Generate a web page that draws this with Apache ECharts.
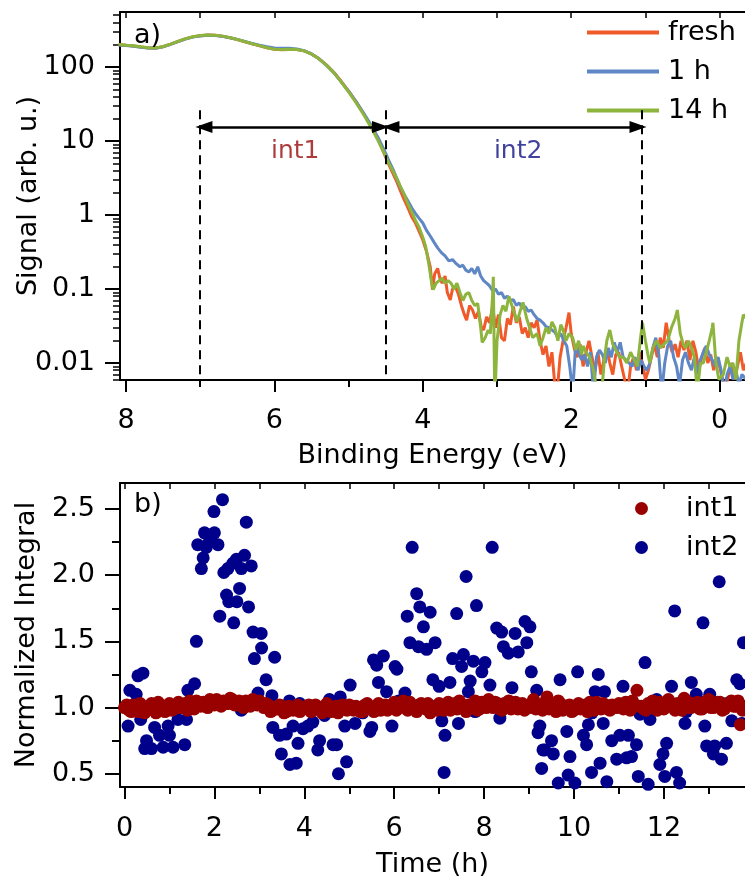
<!DOCTYPE html>
<html>
<head>
<meta charset="utf-8">
<script src="https://cdn.jsdelivr.net/npm/echarts@6/dist/echarts.min.js"></script>
<style>html,body{margin:0;padding:0;background:#fff}#c{width:745px;height:883px}</style>
</head>
<body>
<div id="c"></div>
<script>
// ---------- Panel a: spectra ----------
var smoothE = [8.1,8.0,7.9,7.8,7.7,7.6,7.5,7.4,7.3,7.2,7.1,7.0,6.9,6.8,6.7,6.6,6.5,6.4,6.3,6.2,6.1,6.0,5.9,5.8,5.7,5.6,5.5,5.4,5.3,5.2,5.1,5.0,4.9,4.8,4.7,4.6,4.5];
var freshSmooth = [200,196,192,186,181,180,188,203,221,240,255,265,270,268,260,248,234,219,205,193,181,173,171,172,172,165,150,130,107,85,64,47,34,23.5,16,10.5,6.0];
var h1Smooth    = [198,195,191,185,180,179,187,202,220,238,253,263,268,266,259,248,236,222,208,197,188,181,179,179,175,166,150,129,106,84,63,47,34,24,16.5,11,6.8];
var h14Smooth   = [202,197,193,187,182,181,189,204,222,241,256,266,271,269,261,249,235,220,206,194,182,174,172,173,172,165,149,129,106,84,63,46,33,23,15.5,10,6.2];

var freshTailE = [4.45,4.4,4.35,4.3,4.25,4.2,4.15,4.1,4.05,4.0,3.95,3.9,3.87,3.84,3.8,3.77,3.74,3.7,3.67,3.63,3.6,3.56,3.52,3.48,3.44,3.41,3.37,3.33,3.29,3.25,3.21,3.18,3.14,3.1,3.06,3.02,2.98,2.94,2.9,2.86,2.82,2.78,2.74,2.7,2.66,2.62,2.58,2.54,2.5,2.46,2.42,2.38,2.34,2.3,2.26,2.22,2.19,2.15,2.11,2.07,2.03,2.0,1.96,1.92,1.88,1.84,1.8,1.76,1.72,1.68,1.64,1.6,1.56,1.52,1.48,1.44,1.4,1.36,1.32,1.28,1.24,1.2,1.16,1.12,1.08,1.04,1.0,0.96,0.92,0.88,0.84,0.8,0.76,0.72,0.68,0.64,0.6,0.56,0.52,0.48,0.44,0.4,0.36,0.32,0.28,0.24,0.2,0.16,0.12,0.08,0.04,0.0,-0.04,-0.08,-0.12,-0.16,-0.2,-0.24,-0.28,-0.32,-0.36];
var freshTailS = [4.6,3.6,2.8,2.1,1.6,1.25,0.95,0.78,0.6,0.46,0.32,0.2,0.098,0.16,0.19,0.14,0.12,0.15,0.09,0.071,0.1,0.107,0.085,0.06,0.045,0.038,0.06,0.052,0.04,0.05,0.03,0.028,0.042,0.035,0.058,0.03,0.045,0.022,0.02,0.04,0.033,0.058,0.035,0.042,0.025,0.03,0.022,0.035,0.03,0.038,0.02,0.013,0.017,0.009,0.014,0.005,0.004,0.012,0.02,0.03,0.048,0.025,0.016,0.012,0.018,0.009,0.014,0.02,0.012,0.008,0.014,0.007,0.011,0.016,0.01,0.007,0.013,0.014,0.009,0.006,0.004,0.009,0.012,0.008,0.014,0.01,0.006,0.008,0.012,0.018,0.012,0.022,0.016,0.035,0.02,0.014,0.018,0.012,0.02,0.015,0.02,0.011,0.02,0.014,0.008,0.012,0.016,0.01,0.013,0.008,0.012,0.009,0.006,0.004,0.007,0.01,0.006,0.009,0.014,0.008,0.01];

var h1TailE = [4.45,4.4,4.35,4.3,4.25,4.2,4.15,4.1,4.05,4.0,3.95,3.9,3.85,3.8,3.75,3.7,3.65,3.6,3.55,3.5,3.46,3.42,3.38,3.34,3.3,3.26,3.22,3.18,3.14,3.1,3.06,3.02,2.98,2.94,2.9,2.86,2.82,2.78,2.74,2.7,2.66,2.62,2.58,2.54,2.5,2.46,2.42,2.38,2.34,2.3,2.26,2.22,2.18,2.14,2.1,2.06,2.02,1.98,1.94,1.9,1.86,1.82,1.78,1.74,1.7,1.66,1.62,1.58,1.54,1.5,1.46,1.42,1.38,1.34,1.3,1.26,1.22,1.18,1.14,1.1,1.06,1.02,0.98,0.94,0.9,0.86,0.82,0.78,0.74,0.7,0.66,0.62,0.58,0.54,0.5,0.46,0.42,0.38,0.34,0.3,0.26,0.22,0.18,0.14,0.1,0.06,0.02,-0.02,-0.06,-0.1,-0.14,-0.18,-0.22,-0.26,-0.3,-0.36];
var h1TailS = [5.2,4.1,3.1,2.35,1.9,1.55,1.25,1.05,0.9,0.78,0.62,0.52,0.43,0.36,0.31,0.28,0.24,0.25,0.22,0.2,0.21,0.18,0.17,0.19,0.16,0.2,0.15,0.13,0.12,0.11,0.095,0.1,0.085,0.09,0.075,0.08,0.07,0.072,0.06,0.065,0.055,0.058,0.05,0.052,0.045,0.04,0.038,0.035,0.031,0.03,0.028,0.026,0.022,0.025,0.02,0.017,0.009,0.004,0.018,0.0138,0.011,0.013,0.009,0.014,0.004,0.012,0.015,0.013,0.01,0.016,0.012,0.019,0.014,0.019,0.012,0.011,0.01,0.009,0.012,0.008,0.011,0.009,0.008,0.01,0.016,0.022,0.013,0.004,0.01,0.017,0.02,0.012,0.009,0.005,0.011,0.014,0.01,0.008,0.012,0.007,0.011,0.014,0.017,0.013,0.011,0.009,0.012,0.008,0.004,0.007,0.009,0.006,0.008,0.005,0.007,0.006];

var h14TailE = [4.45,4.4,4.35,4.3,4.25,4.2,4.15,4.1,4.05,4.0,3.96,3.92,3.88,3.86,3.82,3.78,3.74,3.7,3.66,3.62,3.58,3.54,3.5,3.46,3.42,3.38,3.34,3.3,3.26,3.22,3.2,3.16,3.12,3.09,3.06,3.05,3.03,3.0,2.96,2.92,2.88,2.84,2.8,2.76,2.73,2.69,2.65,2.6,2.56,2.52,2.46,2.42,2.38,2.34,2.3,2.26,2.22,2.18,2.14,2.11,2.07,2.03,1.98,1.94,1.9,1.86,1.84,1.8,1.75,1.7,1.65,1.6,1.55,1.52,1.48,1.44,1.4,1.35,1.3,1.25,1.2,1.15,1.11,1.07,1.04,1.0,0.96,0.94,0.9,0.85,0.8,0.75,0.7,0.65,0.6,0.57,0.53,0.49,0.46,0.42,0.38,0.34,0.3,0.26,0.22,0.18,0.14,0.1,0.09,0.05,0.01,-0.05,-0.1,-0.14,-0.18,-0.22,-0.26,-0.3,-0.32,-0.36];
var h14TailS = [4.8,3.9,3.1,2.4,1.9,1.4,1.1,0.85,0.68,0.5,0.37,0.22,0.12,0.098,0.12,0.13,0.14,0.12,0.13,0.12,0.1,0.12,0.09,0.07,0.085,0.09,0.07,0.06,0.064,0.03,0.019,0.022,0.028,0.025,0.08,0.146,0.003,0.02,0.044,0.06,0.05,0.08,0.06,0.045,0.036,0.05,0.066,0.04,0.03,0.022,0.025,0.017,0.022,0.03,0.025,0.036,0.03,0.02,0.033,0.028,0.02,0.025,0.022,0.015,0.02,0.013,0.017,0.014,0.012,0.008,0.004,0.003,0.012,0.02,0.028,0.018,0.015,0.012,0.012,0.01,0.014,0.011,0.009,0.02,0.035,0.02,0.012,0.01,0.016,0.02,0.016,0.018,0.02,0.03,0.04,0.052,0.025,0.018,0.016,0.02,0.016,0.012,0.004,0.01,0.01,0.014,0.02,0.03,0.035,0.01,0.006,0.007,0.012,0.009,0.01,0.006,0.02,0.035,0.045,0.04];

var logMajor = [0.01,0.1,1,10,100];
var logMinor = [0.006,0.007,0.008,0.009,0.02,0.03,0.04,0.05,0.06,0.07,0.08,0.09,0.2,0.3,0.4,0.5,0.6,0.7,0.8,0.9,2,3,4,5,6,7,8,9,20,30,40,50,60,70,80,90,200,300,400,500];
var energyMajor = [0,2,4,6,8];
var energyMinor = [1,3,5,7];
var energyTop = [0,1,2,3,4,5,6,7,8];

// integration windows (eV)
var int1Range = [7.0, 4.5];
var int2Range = [4.5, 1.05];

// ---------- Panel b: normalized integrals ----------
var int1T = [0.0,0.1,0.2,0.3,0.4,0.5,0.6,0.7,0.8,0.9,1.0,1.1,1.2,1.3,1.4,1.5,1.6,1.7,1.8,1.9,2.0,2.1,2.2,2.3,2.4,2.5,2.6,2.7,2.8,2.9,3.0,3.1,3.2,3.3,3.4,3.5,3.6,3.7,3.8,3.9,4.0,4.1,4.2,4.3,4.4,4.5,4.6,4.7,4.8,4.9,5.0,5.1,5.2,5.3,5.4,5.5,5.6,5.7,5.8,5.9,6.0,6.1,6.2,6.3,6.4,6.5,6.6,6.7,6.8,6.9,7.0,7.1,7.2,7.3,7.4,7.5,7.6,7.7,7.8,7.9,8.0,8.1,8.2,8.3,8.4,8.5,8.6,8.7,8.8,8.9,9.0,9.1,9.2,9.3,9.4,9.5,9.6,9.7,9.8,9.9,10.0,10.1,10.2,10.3,10.4,10.5,10.6,10.7,10.8,10.9,11.0,11.1,11.2,11.3,11.4,11.5,11.6,11.7,11.8,11.9,12.0,12.1,12.2,12.3,12.4,12.5,12.6,12.7,12.8,12.9,13.0,13.1,13.2,13.3,13.4,13.5,13.6,13.7,13.8];
var int1V = [1.0,0.98,1.02,0.97,1.01,0.99,1.03,0.96,1.02,0.97,1.03,0.99,1.04,1.0,0.98,1.02,1.05,1.01,1.03,1.06,1.02,1.04,1.05,1.03,1.06,1.02,1.04,1.05,1.01,1.03,1.05,1.0,1.02,0.98,0.99,1.01,0.97,0.99,1.0,0.97,0.99,1.02,0.98,1.0,0.96,1.03,0.97,1.01,0.99,1.0,1.02,0.98,1.0,0.97,1.03,0.99,1.01,0.98,1.02,1.0,1.04,1.0,1.05,0.98,1.01,0.97,1.03,0.99,0.96,1.0,1.03,0.98,1.04,1.0,0.99,1.02,0.97,1.01,1.05,0.99,1.02,1.06,1.0,1.03,0.98,1.01,0.99,1.04,1.02,0.98,1.0,1.06,1.02,0.98,1.08,1.01,0.97,1.03,0.99,1.02,0.98,1.03,1.0,0.97,1.01,1.04,0.99,1.02,0.98,1.01,1.03,0.99,1.02,1.05,1.13,1.01,0.98,1.02,1.0,1.04,0.99,1.06,1.01,1.03,0.98,1.05,1.0,1.02,0.99,1.03,1.06,1.0,1.04,0.98,1.02,1.05,1.01,0.87,1.01];
var int1T2 = [0.05,0.15,0.25,0.35,0.45,0.55,0.65,0.75,0.85,0.95,1.05,1.15,1.25,1.35,1.45,1.55,1.65,1.75,1.85,1.95,2.05,2.15,2.25,2.35,2.45,2.55,2.65,2.75,2.85,2.95,3.05,3.15,3.25,3.35,3.45,3.55,3.65,3.75,3.85,3.95,4.05,4.15,4.25,4.35,4.45,4.55,4.65,4.75,4.85,4.95,5.05,5.15,5.25,5.35,5.45,5.55,5.65,5.75,5.85,5.95,6.05,6.15,6.25,6.35,6.45,6.55,6.65,6.75,6.85,6.95,7.05,7.15,7.25,7.35,7.45,7.55,7.65,7.75,7.85,7.95,8.05,8.15,8.25,8.35,8.45,8.55,8.65,8.75,8.85,8.95,9.05,9.15,9.25,9.35,9.45,9.55,9.65,9.75,9.85,9.95,10.05,10.15,10.25,10.35,10.45,10.55,10.65,10.75,10.85,10.95,11.05,11.15,11.25,11.35,11.45,11.55,11.65,11.75,11.85,11.95,12.05,12.15,12.25,12.35,12.45,12.55,12.65,12.75,12.85,12.95,13.05,13.15,13.25,13.35,13.45,13.55,13.65,13.75];
var int1V2 = [1.02,0.97,1.0,1.03,0.96,1.01,0.98,1.04,0.99,1.01,0.98,1.02,1.0,1.03,1.05,0.99,1.02,1.04,1.0,1.03,1.06,1.01,1.03,1.07,1.02,1.05,1.0,1.03,1.06,1.02,1.02,1.03,0.97,1.0,1.02,0.96,1.01,0.98,1.02,0.99,1.01,0.97,1.02,0.99,1.01,0.98,1.0,0.96,1.02,0.98,0.99,1.01,0.97,1.02,1.0,0.97,1.03,1.0,0.98,1.02,0.98,1.03,1.01,1.04,0.99,1.02,1.0,1.03,1.01,0.98,1.01,1.0,0.98,1.03,1.05,0.99,1.02,1.0,0.98,1.04,1.0,1.02,1.04,0.99,1.03,1.05,1.01,0.99,1.03,1.0,1.03,0.99,1.01,1.04,0.99,1.02,1.05,0.98,1.01,0.97,1.01,0.99,1.02,1.04,0.98,1.0,1.03,0.99,1.02,1.0,1.01,1.04,0.98,1.02,1.01,0.99,1.03,1.05,0.98,1.02,1.01,1.03,0.98,1.02,1.07,1.0,1.03,1.04,0.99,1.05,1.0,1.02,1.04,0.99,1.03,1.01,1.05,0.98];

var int2T = [0.08,0.12,0.26,0.3,0.41,0.36,0.49,0.45,0.6,0.67,0.78,0.86,0.97,1.0,1.08,1.19,1.34,1.38,1.41,1.56,1.6,1.63,1.71,1.75,1.82,1.78,1.89,2.0,2.08,1.99,2.18,2.12,2.21,2.3,2.41,2.49,2.27,2.32,2.43,2.5,2.56,2.6,2.67,2.71,2.82,2.76,2.86,3.04,3.05,2.89,3.34,3.15,2.97,3.28,3.3,3.45,3.6,3.67,3.75,3.49,3.68,3.82,3.86,3.97,4.08,4.19,4.34,4.3,4.45,4.56,4.64,4.72,4.76,4.94,4.9,5.02,4.8,5.13,5.46,5.5,5.54,5.61,5.76,5.65,5.83,5.95,6.02,6.06,6.24,6.29,6.35,6.4,6.5,6.54,6.57,6.65,6.72,6.8,6.86,6.91,7.0,7.06,7.13,7.11,7.24,7.3,7.39,7.43,7.5,7.54,7.6,7.65,7.69,7.76,7.83,7.95,8.02,8.13,8.18,8.28,8.39,8.43,8.54,8.62,8.69,8.76,8.91,8.95,9.02,8.35,9.05,9.17,9.2,9.24,9.31,9.28,9.35,9.54,9.5,9.65,9.69,9.84,9.87,9.91,10.02,10.08,10.21,10.28,10.32,10.39,10.47,10.54,10.58,10.65,10.68,10.73,10.84,10.95,11.02,11.09,11.17,11.21,11.28,11.39,11.43,11.47,11.58,11.65,11.69,11.84,11.91,11.98,12.06,12.02,12.17,12.24,12.28,12.35,12.47,12.61,12.72,12.87,12.91,12.95,13.02,13.1,13.13,13.23,13.28,13.39,13.51,13.62,13.69,13.77,13.73,0.2,0.7,1.5,2.6,3.9,5.3,6.1,7.8,9.5,10.4,11.3,12.5,13.4];
var int2V = [0.86,1.13,1.1,1.24,1.26,0.91,0.75,0.69,0.69,0.85,0.79,0.7,0.86,0.79,0.7,0.91,0.72,0.91,1.13,1.18,1.5,2.23,2.05,2.13,2.21,2.32,2.26,2.32,2.23,2.48,2.57,1.69,2.02,2.05,2.09,2.12,1.85,1.8,1.64,1.8,1.9,2.05,2.15,2.4,2.07,1.76,1.57,1.56,1.45,1.37,1.38,1.21,1.11,1.09,0.85,0.79,0.8,1.05,0.86,0.65,0.57,0.58,0.73,0.84,0.86,0.89,0.75,0.68,0.94,1.06,0.72,0.72,0.5,0.59,0.86,1.17,1.08,0.88,0.82,0.85,1.36,1.32,1.39,1.19,1.12,0.86,1.31,1.29,1.11,1.69,1.49,2.21,1.86,1.46,1.76,1.61,1.44,1.72,1.21,1.49,1.16,0.9,0.79,0.51,1.19,1.37,1.71,0.88,1.31,1.4,1.99,1.12,1.2,1.35,1.77,1.27,1.34,1.17,2.21,1.6,1.57,1.46,1.41,1.15,1.56,1.42,1.65,1.49,1.61,0.92,1.27,1.13,0.81,0.86,0.68,0.54,0.68,0.65,0.75,0.43,1.21,0.82,0.49,0.63,0.43,1.27,0.79,0.72,0.87,0.51,1.12,1.25,0.58,0.88,1.12,0.44,0.75,0.61,0.79,1.16,0.62,0.79,0.63,0.72,0.48,0.95,1.34,0.42,0.91,1.06,0.57,0.65,0.73,0.48,1.16,1.73,0.51,0.43,0.88,1.19,1.1,1.64,0.86,0.71,1.1,0.65,0.71,1.95,0.61,0.73,0.9,1.21,1.18,1.49,0.88,1.02,0.97,1.04,0.98,1.03,0.96,1.05,0.97,1.02,0.96,1.04,0.97,1.03];

var fracMajor = [0.5,1.0,1.5,2.0,2.5];
var fracMinor = [0.75,1.25,1.75,2.25];
var timeMajor = [0,2,4,6,8,10,12];
var timeMinor = [1,3,5,7,9,11,13];
var timeTop = [0,1,2,3,4,5,6,7,8,9,10,11,12,13];

function zip(a, b) { return a.map(function (v, i) { return [v, b[i]]; }); }

var FONT = 'DejaVu Sans';
var FS = 27;
var black = '#000';

var chart = echarts.init(document.getElementById('c'), null, { renderer: 'canvas' });

var Emin = -0.342, Emax = 8.081;
var Smin = 0.0059, Smax = 553;
var Tmin = -0.1, Tmax = 13.804;
var Vmin = 0.4, Vmax = 2.696;

function lineSty(w) { return { show: true, onZero: false, lineStyle: { color: black, width: w } }; }
var noLine = { show: false, onZero: false };
var txt = { color: black, fontSize: FS, fontFamily: FONT };

var option = {
  animation: false,
  backgroundColor: '#fff',
  textStyle: { fontFamily: FONT },
  grid: [
    { left: 120, top: 12, right: 0, height: 368, containLabel: false, outerBoundsMode: 'none' },
    { left: 120, top: 483, right: 0, height: 304, containLabel: false, outerBoundsMode: 'none' }
  ],
  legend: [
    {
      data: ['fresh', '1 h', '14 h'],
      orient: 'vertical', left: 587, top: 19, itemGap: 12,
      itemWidth: 72, itemHeight: 4, icon: 'rect', padding: 0,
      textStyle: { fontSize: FS, fontFamily: FONT, color: black, padding: [0, 0, 0, 4] }
    },
    {
      data: ['int1', 'int2'],
      orient: 'vertical', left: 635, top: 495, itemGap: 12,
      itemWidth: 13, itemHeight: 13, icon: 'circle', padding: 0,
      textStyle: { fontSize: FS, fontFamily: FONT, color: black, padding: [0, 0, 0, 33] }
    }
  ],
  xAxis: [
    {
      gridIndex: 0, type: 'value', min: Emin, max: Emax, inverse: true, position: 'bottom',
      axisLine: lineSty(2), splitLine: { show: false },
      axisTick: { show: true, length: 12, lineStyle: { color: black, width: 2 }, customValues: energyMajor },
      axisLabel: Object.assign({ margin: 27, customValues: energyMajor }, txt),
      name: 'Binding Energy (eV)', nameLocation: 'middle', nameGap: 62, nameTextStyle: txt, nameMoveOverlap: false
    },
    {
      gridIndex: 0, type: 'value', min: Emin, max: Emax, inverse: true, position: 'bottom',
      axisLine: noLine, splitLine: { show: false }, axisLabel: { show: false },
      axisTick: { show: true, length: 7, lineStyle: { color: black, width: 2 }, customValues: energyMinor }
    },
    {
      gridIndex: 0, type: 'value', min: Emin, max: Emax, inverse: true, position: 'top',
      axisLine: lineSty(2), splitLine: { show: false }, axisLabel: { show: false },
      axisTick: { show: true, inside: true, length: 6, lineStyle: { color: black, width: 1.5 }, customValues: energyTop }
    },
    {
      gridIndex: 1, type: 'value', min: Tmin, max: Tmax, position: 'bottom',
      axisLine: lineSty(2), splitLine: { show: false },
      axisTick: { show: true, length: 12, lineStyle: { color: black, width: 2 }, customValues: timeMajor },
      axisLabel: Object.assign({ margin: 28, customValues: timeMajor }, txt),
      name: 'Time (h)', nameLocation: 'middle', nameGap: 64, nameTextStyle: txt, nameMoveOverlap: false
    },
    {
      gridIndex: 1, type: 'value', min: Tmin, max: Tmax, position: 'bottom',
      axisLine: noLine, splitLine: { show: false }, axisLabel: { show: false },
      axisTick: { show: true, length: 7, lineStyle: { color: black, width: 2 }, customValues: timeMinor }
    },
    {
      gridIndex: 1, type: 'value', min: Tmin, max: Tmax, position: 'top',
      axisLine: lineSty(2), splitLine: { show: false }, axisLabel: { show: false },
      axisTick: { show: true, inside: true, length: 6, lineStyle: { color: black, width: 1.5 }, customValues: timeTop }
    }
  ],
  yAxis: [
    {
      gridIndex: 0, type: 'log', min: Smin, max: Smax, position: 'left',
      axisLine: lineSty(2), splitLine: { show: false },
      axisTick: { show: true, length: 15, lineStyle: { color: black, width: 2 }, customValues: logMajor },
      axisLabel: Object.assign({ margin: 25, customValues: logMajor,
        formatter: function (v) { return String(+(+v).toPrecision(3)); } }, txt),
      name: 'Signal (arb. u.)', nameLocation: 'middle', nameGap: 78, nameRotate: 90, nameTextStyle: txt, nameMoveOverlap: false
    },
    {
      gridIndex: 0, type: 'log', min: Smin, max: Smax, position: 'left',
      axisLine: noLine, splitLine: { show: false }, axisLabel: { show: false },
      axisTick: { show: true, length: 7, lineStyle: { color: black, width: 1.5 }, customValues: logMinor }
    },
    {
      gridIndex: 1, type: 'value', min: Vmin, max: Vmax, position: 'left',
      axisLine: lineSty(2), splitLine: { show: false },
      axisTick: { show: true, length: 15, lineStyle: { color: black, width: 2 }, customValues: fracMajor },
      axisLabel: Object.assign({ margin: 25, customValues: fracMajor,
        formatter: function (v) { return (+v).toFixed(1); } }, txt),
      name: 'Normalized Integral', nameLocation: 'middle', nameGap: 80, nameRotate: 90, nameTextStyle: txt, nameMoveOverlap: false
    },
    {
      gridIndex: 1, type: 'value', min: Vmin, max: Vmax, position: 'left',
      axisLine: noLine, splitLine: { show: false }, axisLabel: { show: false },
      axisTick: { show: true, length: 8, lineStyle: { color: black, width: 2 }, customValues: fracMinor }
    }
  ],
  graphic: [
    { type: 'text', left: 134, top: 22, z: 10, style: { text: 'a)', fontSize: FS, fontFamily: FONT, fill: black } },
    { type: 'text', left: 134, top: 491, z: 10, style: { text: 'b)', fontSize: FS, fontFamily: FONT, fill: black } }
  ],
  series: [
    {
      name: 'fresh', type: 'line', xAxisIndex: 0, yAxisIndex: 0, showSymbol: false, symbol: 'none',
      data: zip(smoothE.concat(freshTailE), freshSmooth.concat(freshTailS)),
      lineStyle: { color: '#f05a2a', width: 3 }, itemStyle: { color: '#f05a2a' }, z: 2
    },
    {
      name: '1 h', type: 'line', xAxisIndex: 0, yAxisIndex: 0, showSymbol: false, symbol: 'none',
      data: zip(smoothE.concat(h1TailE), h1Smooth.concat(h1TailS)),
      lineStyle: { color: '#5f87c5', width: 3 }, itemStyle: { color: '#5f87c5' }, z: 3
    },
    {
      name: '14 h', type: 'line', xAxisIndex: 0, yAxisIndex: 0, showSymbol: false, symbol: 'none',
      data: zip(smoothE.concat(h14TailE), h14Smooth.concat(h14TailS)),
      lineStyle: { color: '#8db43c', width: 3 }, itemStyle: { color: '#8db43c' }, z: 4
    },
    {
      name: 'annot', type: 'scatter', xAxisIndex: 0, yAxisIndex: 0, symbolSize: 0, silent: true, z: 5,
      itemStyle: { color: 'rgba(0,0,0,0)' },
      data: [
        { name: 'int1', value: [(int1Range[0] + int1Range[1]) / 2 - 0.03, 7.1], label: { color: '#990a0a' } },
        { name: 'int2', value: [(int2Range[0] + int2Range[1]) / 2 - 0.06, 7.1], label: { color: '#101085' } }
      ],
      label: { show: true, position: 'inside', formatter: '{b}', fontSize: 25, fontFamily: FONT },
      markLine: {
        silent: true, animation: false, precision: 4,
        label: { show: false },
        data: [
          [{ coord: [int1Range[0], 26], symbol: 'none', lineStyle: { type: [9, 6], width: 2, color: black } },
           { coord: [int1Range[0], Smin], symbol: 'none' }],
          [{ coord: [int1Range[1], 26], symbol: 'none', lineStyle: { type: [9, 6], width: 2, color: black } },
           { coord: [int1Range[1], Smin], symbol: 'none' }],
          [{ coord: [int2Range[1], 26], symbol: 'none', lineStyle: { type: [9, 6], width: 2, color: black } },
           { coord: [int2Range[1], Smin], symbol: 'none' }],
          [{ coord: [int1Range[0] - 0.05, 15.5], symbol: 'triangle', symbolSize: [12, 17], lineStyle: { type: 'solid', width: 2.5, color: black } },
           { coord: [int1Range[1] + 0.07, 15.5], symbol: 'triangle', symbolSize: [12, 17] }],
          [{ coord: [int2Range[0] - 0.07, 15.5], symbol: 'triangle', symbolSize: [12, 17], lineStyle: { type: 'solid', width: 2.5, color: black } },
           { coord: [int2Range[1] + 0.05, 15.5], symbol: 'triangle', symbolSize: [12, 17] }]
        ]
      }
    },
    {
      name: 'int2', type: 'scatter', xAxisIndex: 3, yAxisIndex: 2, symbolSize: 13,
      data: zip(int2T, int2V), itemStyle: { color: '#00008b', opacity: 1 }, z: 2
    },
    {
      name: 'int1', type: 'scatter', xAxisIndex: 3, yAxisIndex: 2, symbolSize: 13,
      data: zip(int1T, int1V).concat(zip(int1T2, int1V2)), itemStyle: { color: '#990000', opacity: 1 }, z: 3
    }
  ]
};
chart.setOption(option);
</script>
</body>
</html>
